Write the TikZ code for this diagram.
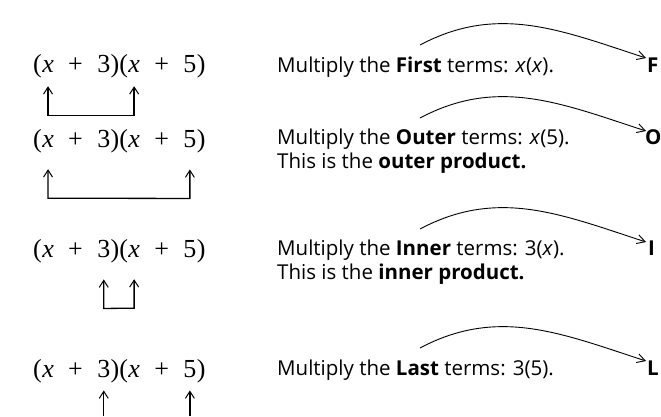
\documentclass[tikz,border=0pt]{standalone}
\usepackage{fontspec}
\setmainfont{Open Sans}
\newfontfamily\exprfont{Liberation Serif}
\usetikzlibrary{arrows.meta}
\tikzset{barbtip/.tip={Straight Barb[length=7pt,width=9pt,line width=1pt]}}
\newcommand{\rowexpr}[2]{%
  \node[mt] (#1lp) at (33,#2) {(};
  \node[mt] (#1xa) at (#1lp.base east) {\textit{x}};
  \node[mt] (#1pa) at ([xshift=14pt]#1xa.base east) {+};
  \node[mt] (#1ta) at ([xshift=14pt]#1pa.base east) {3};
  \node[mt] (#1rp) at (#1ta.base east) {)(};
  \node[mt] (#1xb) at (#1rp.base east) {\textit{x}};
  \node[mt] (#1pb) at ([xshift=14pt]#1xb.base east) {+};
  \node[mt] (#1fb) at ([xshift=14pt]#1pb.base east) {5};
  \node[mt] (#1cp) at (#1fb.base east) {)};
}
\begin{document}
\begin{tikzpicture}[x=1pt,y=-1pt,
  mt/.style={font=\exprfont\fontsize{26}{30}\selectfont, inner sep=0, anchor=base west},
  desc/.style={font=\fontsize{20.5}{24}\selectfont, anchor=base west, inner sep=0},
  letter/.style={font=\bfseries\fontsize{20.5}{24}\selectfont, inner sep=0, anchor=base west},
  bracket/.style={line width=1.3pt, barbtip-barbtip},
  uparrow/.style={line width=1.3pt, -barbtip},
  arcarrow/.style={line width=0.9pt, -{Straight Barb[length=8pt,width=9pt]}}]
\useasboundingbox (0,0) rectangle (661,416);
\fill[white] (0,0) rectangle (661,416);

% Row 1
\rowexpr{r1}{72}
\node[desc] (t1) at (277,72) {Multiply the \textbf{First} terms: \textit{x}(\textit{x}).};
\node[letter] (F) at (647,72) {F};
\coordinate (a1s) at (420,45);
\coordinate (a1e) at (646,58);
\draw[arcarrow] (a1s) to[out=28,in=162] (a1e);
\draw[bracket] ([yshift=-14pt]r1xa.south) -- ([yshift=-43pt]r1xa.south)
  -- ([yshift=-43pt]r1xb.south) -- ([yshift=-14pt]r1xb.south);

% Row 2
\rowexpr{r2}{147}
\node[desc] (t2) at (277,144) {Multiply the \textbf{Outer} terms: \textit{x}(5).};
\node[desc] (t2b) at ([yshift=-24pt]t2.base west) {This is the \textbf{outer product.}};
\node[letter] (O) at (645,144) {O};
\coordinate (a2s) at (420,118);
\coordinate (a2e) at (646,131);
\draw[arcarrow] (a2s) to[out=28,in=162] (a2e);
\draw[bracket] ([yshift=-22pt]r2xa.south) -- ([yshift=-51pt]r2xa.south)
  -- ([yshift=-51pt]r2fb.south) -- ([yshift=-22pt]r2fb.south);

% Row 3
\rowexpr{r3}{257}
\node[desc] (t3) at (277,255) {Multiply the \textbf{Inner} terms: 3(\textit{x}).};
\node[desc] (t3b) at ([yshift=-24pt]t3.base west) {This is the \textbf{inner product.}};
\node[letter] (I) at (648,255) {I};
\coordinate (a3s) at (420,229);
\coordinate (a3e) at (646,242);
\draw[arcarrow] (a3s) to[out=28,in=162] (a3e);
\draw[bracket] ([yshift=-22pt]r3ta.south) -- ([yshift=-51pt]r3ta.south)
  -- ([yshift=-51pt]r3xb.south) -- ([yshift=-22pt]r3xb.south);

% Row 4
\rowexpr{r4}{377}
\node[desc] (t4) at (277,375) {Multiply the \textbf{Last} terms: 3(5).};
\node[letter] (L) at (647,375) {L};
\coordinate (a4s) at (420,348);
\coordinate (a4e) at (646,361);
\draw[arcarrow] (a4s) to[out=28,in=162] (a4e);
\coordinate (b4l) at (r4ta.south |- 0,416);
\coordinate (b4r) at (r4fb.south |- 0,416);
\draw[uparrow] (b4l) -- ([yshift=-13pt]r4ta.south);
\draw[uparrow] (b4r) -- ([yshift=-13pt]r4fb.south);
\end{tikzpicture}
\end{document}
